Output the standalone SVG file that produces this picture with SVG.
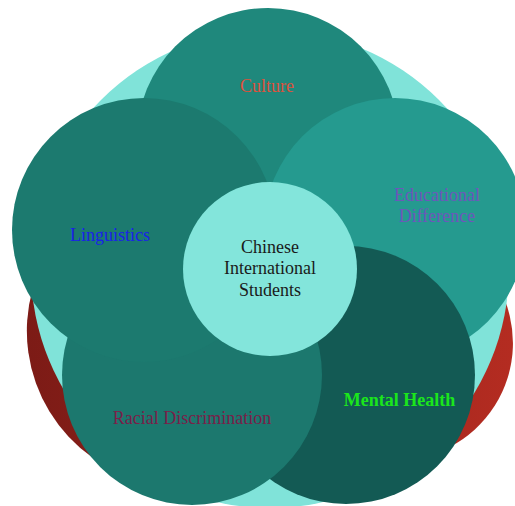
<svg xmlns="http://www.w3.org/2000/svg" width="515" height="506" viewBox="0 0 515 506">
  <defs>
    <linearGradient id="redRing" x1="0" y1="0" x2="1" y2="0">
      <stop offset="0" stop-color="#7C1B16"/>
      <stop offset="1" stop-color="#B42C21"/>
    </linearGradient>
    <style>
      .lbl { font-family: "Liberation Serif", "Times New Roman", serif; font-size: 18px; text-anchor: middle; }
    </style>
  </defs>
  <rect width="515" height="506" fill="#FFFFFF"/>

  <!-- backdrop: red band and pale ring -->
  <g id="backdrop">
    <path d="M44,260 A155,155 0 0 0 120,473 L420,457.5 A117,117 0 0 0 480,261.6 Z" fill="url(#redRing)"/>
    <circle cx="270" cy="269" r="239" fill="#80E3D9"/>
  </g>

  <g id="connectors"/>

  <g id="culture">
    <circle cx="268" cy="139" r="131" fill="#1F887C"/>
    <text class="lbl" x="267" y="92" fill="#DC523C">Culture</text>
  </g>

  <g id="educational-difference">
    <circle cx="395" cy="229" r="131" fill="#259A8F"/>
    <text class="lbl" x="437" y="201" fill="#6F56BC">Educational</text>
    <text class="lbl" x="437" y="222" fill="#6F56BC">Difference</text>
  </g>

  <g id="mental-health">
    <circle cx="346" cy="375" r="129" fill="#135A54"/>
    <text class="lbl" x="399.5" y="406" fill="#1BE61B" font-weight="bold" font-size="17">Mental Health</text>
  </g>

  <g id="racial-discrimination">
    <circle cx="192" cy="375" r="130" fill="#1C786E"/>
    <text class="lbl" x="192" y="424" fill="#7A2049">Racial Discrimination</text>
  </g>

  <g id="linguistics">
    <circle cx="144" cy="230" r="132" fill="#1C7A6F"/>
    <text class="lbl" x="110" y="241" fill="#1A22E8">Linguistics</text>
  </g>

  <g id="chinese-international-students">
    <circle cx="270" cy="269" r="87" fill="#83E5DB"/>
    <text class="lbl" x="270" y="253" fill="#1A1A1A">Chinese</text>
    <text class="lbl" x="270" y="274" fill="#1A1A1A">International</text>
    <text class="lbl" x="270" y="296" fill="#1A1A1A">Students</text>
  </g>
</svg>
